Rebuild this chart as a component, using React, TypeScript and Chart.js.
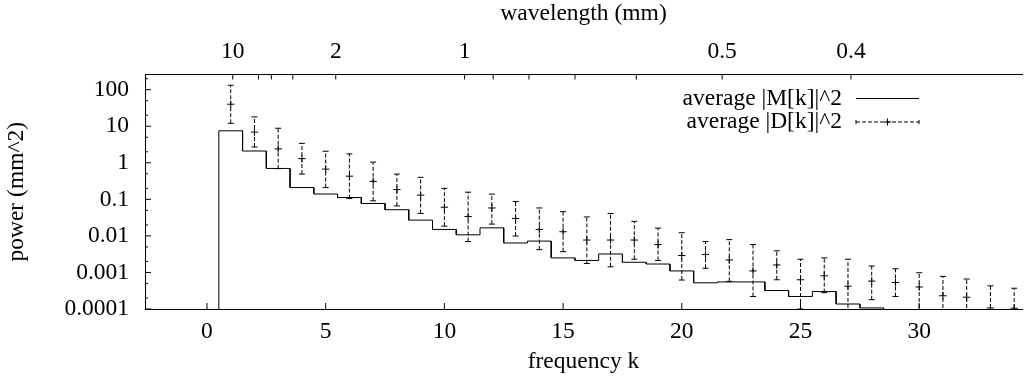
import React, { useEffect, useRef } from 'react';
import { Chart, registerables } from 'chart.js';

Chart.register(...registerables);

// ---------- data ----------
const kValues = [1, 2, 3, 4, 5, 6, 7, 8, 9, 10, 11, 12, 13, 14, 15, 16, 17, 18, 19, 20, 21, 22, 23, 24, 25, 26, 27, 28, 29, 30, 31, 32, 33, 34];
const mPower = [7.5, 2.1, 0.7, 0.21, 0.14, 0.112, 0.077, 0.052, 0.027, 0.015, 0.0107, 0.0166, 0.0064, 0.0072, 0.0025, 0.00213, 0.0032, 0.0019, 0.0017, 0.0011, 0.00052, 0.00055, 0.00055, 0.00032, 0.00022, 0.0003, 0.000137, 0.000107, 0.00008, 0.00007, 0.00006, 0.00005, 0.00005, 0.00005];
const dPower = [40, 6.9, 2.4, 1.3, 0.67, 0.43, 0.31, 0.185, 0.13, 0.061, 0.034, 0.058, 0.03, 0.015, 0.013, 0.0077, 0.0077, 0.0077, 0.0058, 0.0029, 0.0031, 0.0022, 0.0011, 0.0016, 0.00063, 0.00081, 0.00042, 0.00058, 0.00053, 0.0004, 0.00023, 0.00021, 0.000107, 0.000105];
const dLow = [12, 2.7, 0.69, 0.49, 0.21, 0.105, 0.091, 0.066, 0.041, 0.0185, 0.007, 0.021, 0.0099, 0.0042, 0.0037, 0.00176, 0.00143, 0.0023, 0.00213, 0.00062, 0.0013, 0.00057, 0.00022, 0.00063, 0.0001, 0.00028, 0.00005, 0.00018, 0.00022, 0.00005, 0.00005, 0.00005, 0.00005, 0.00005];
const dHigh = [132, 18, 8.8, 3.4, 2.07, 1.75, 1.04, 0.49, 0.4, 0.2, 0.157, 0.139, 0.087, 0.058, 0.046, 0.033, 0.041, 0.025, 0.0163, 0.0122, 0.007, 0.0079, 0.0058, 0.0039, 0.0023, 0.0025, 0.0023, 0.0015, 0.00126, 0.00098, 0.00078, 0.00066, 0.00043, 0.00037];

const xTickValues = [0, 5, 10, 15, 20, 25, 30];
const yTickValues = [0.0001, 0.001, 0.01, 0.1, 1, 10, 100];
const yTickLabels = ['0.0001', '0.001', '0.01', '0.1', '1', '10', '100'];
const yMinorTicks = [0.0002, 0.0005, 0.002, 0.005, 0.02, 0.05, 0.2, 0.5, 2, 5, 20, 50, 200];
const wavelengthTicks = [10, 5, 4, 3, 2, 1, 0.9, 0.8, 0.7, 0.6, 0.5, 0.4];
const wavelengthLabels = ['10', '', '', '', '2', '1', '', '', '', '', '0.5', '0.4'];
const SAMPLE_LENGTH_MM = 10.85;

const X_MIN = -2.61;
const X_MAX = 34.33;
const Y_MIN = 0.0001;
const Y_MAX = 260;

// ---------- layout (page pixels) ----------
const FULL_W = 1027;
const FULL_H = 386;
const PLOT_LEFT = 145;
const PLOT_TOP = 74.5;
const PLOT_BOTTOM = 309;
const FONT_SIZE = 23.5;
const FONT_FAMILY = '"Liberation Serif", "Times New Roman", serif';
const LEGEND_TEXT_RIGHT = 842;
const LEGEND_SAMPLE_L = 856;
const LEGEND_SAMPLE_R = 919;
const LEGEND_ROWS = [98.5, 122];

const font = { family: FONT_FAMILY, size: FONT_SIZE };

const stepPoints = (() => {
  const pts: { x: number; y: number }[] = [{ x: kValues[0] - 0.5, y: 1e-7 }];
  kValues.forEach((k, i) => {
    pts.push({ x: k - 0.5, y: mPower[i] });
    pts.push({ x: k + 0.5, y: mPower[i] });
  });
  return pts;
})();

const line = (ctx: CanvasRenderingContext2D, x1: number, y1: number, x2: number, y2: number) => {
  ctx.beginPath();
  ctx.moveTo(x1, y1);
  ctx.lineTo(x2, y2);
  ctx.stroke();
};

const tickPlugin = {
  id: 'inwardTicks',
  afterDraw(chart: any) {
    const { ctx, chartArea: ca, scales } = chart;
    ctx.save();
    ctx.strokeStyle = '#000';
    ctx.lineWidth = 1;
    xTickValues.forEach((v) => {
      const px = scales.x.getPixelForValue(v);
      line(ctx, px, ca.bottom, px, ca.bottom - 6);
    });
    wavelengthTicks.forEach((l) => {
      const px = scales.x2.getPixelForValue(SAMPLE_LENGTH_MM / l);
      line(ctx, px, ca.top, px, ca.top + 5);
    });
    yTickValues.forEach((v) => {
      const py = scales.y.getPixelForValue(v);
      line(ctx, ca.left, py, ca.left + 6, py);
    });
    yMinorTicks.forEach((v) => {
      const py = scales.y.getPixelForValue(v);
      if (py >= ca.top && py <= ca.bottom) line(ctx, ca.left, py, ca.left + 3, py);
    });
    ctx.restore();
  },
};

const errorBarPlugin = {
  id: 'errorBars',
  afterDatasetsDraw(chart: any) {
    const { ctx, chartArea: ca, scales } = chart;
    ctx.save();
    ctx.beginPath();
    ctx.rect(ca.left, ca.top, ca.right - ca.left, ca.bottom - ca.top);
    ctx.clip();
    ctx.strokeStyle = '#000';
    ctx.lineWidth = 1;
    const cw = 3;
    kValues.forEach((k, i) => {
      const px = scales.x.getPixelForValue(k);
      const pLo = scales.y.getPixelForValue(dLow[i]);
      const pHi = scales.y.getPixelForValue(dHigh[i]);
      ctx.setLineDash([4, 2]);
      line(ctx, px, pLo, px, pHi);
      ctx.setLineDash([]);
      line(ctx, px - cw, pHi, px + cw, pHi);
      line(ctx, px - cw, pLo, px + cw, pLo);
    });
    ctx.restore();
  },
};

const legendPlugin = {
  id: 'gnuLegend',
  afterDraw(chart: any) {
    const { ctx } = chart;
    const x1 = LEGEND_SAMPLE_L;
    const x2 = LEGEND_SAMPLE_R;
    ctx.save();
    ctx.font = `${FONT_SIZE}px ${FONT_FAMILY}`;
    ctx.fillStyle = '#000';
    ctx.textAlign = 'right';
    ctx.textBaseline = 'middle';
    ctx.strokeStyle = '#000';
    ctx.lineWidth = 1;
    chart.data.datasets.forEach((ds: any, i: number) => {
      const y = LEGEND_ROWS[i];
      ctx.fillText(ds.label, LEGEND_TEXT_RIGHT, y);
      if (i === 0) {
        line(ctx, x1, y, x2, y);
      } else {
        ctx.setLineDash([4, 2]);
        line(ctx, x1, y, x2, y);
        ctx.setLineDash([]);
        line(ctx, x1, y - 2, x1, y + 2);
        line(ctx, x2, y - 2, x2, y + 2);
        const xm = (x1 + x2) / 2;
        line(ctx, xm - 3.5, y, xm + 3.5, y);
        line(ctx, xm, y - 3.5, xm, y + 3.5);
      }
    });
    ctx.restore();
  },
};

export default function App() {
  const canvasRef = useRef<HTMLCanvasElement | null>(null);

  useEffect(() => {
    const canvas = canvasRef.current;
    if (!canvas) return;
    const chart = new Chart(canvas, {
      type: 'line',
      data: {
        datasets: [
          {
            label: 'average |M[k]|^2',
            data: stepPoints,
            borderColor: '#000',
            borderWidth: 1,
            pointRadius: 0,
            fill: false,
            tension: 0,
          },
          {
            label: 'average |D[k]|^2',
            data: kValues.map((k, i) => ({ x: k, y: dPower[i] })),
            showLine: false,
            pointStyle: 'cross',
            pointRadius: 3.7,
            pointBorderColor: '#000',
            pointBorderWidth: 1,
            borderColor: '#000',
          },
        ],
      },
      options: {
        animation: false,
        responsive: false,
        maintainAspectRatio: false,
        devicePixelRatio: 1,
        layout: { padding: 0 },
        plugins: { legend: { display: false }, tooltip: { enabled: false } },
        events: [],
        scales: {
          x: {
            type: 'linear',
            position: 'bottom',
            min: X_MIN,
            max: X_MAX,
            afterBuildTicks: (s: any) => {
              s.ticks = xTickValues.map((v) => ({ value: v }));
            },
            afterFit: (s: any) => {
              s.height = FULL_H - PLOT_BOTTOM;
            },
            grid: { display: false, drawTicks: false },
            border: { display: true, color: '#000', width: 1 },
            ticks: { autoSkip: false, maxRotation: 0, padding: 9, color: '#000', font, callback: (v: any) => String(v) },
            title: { display: true, text: 'frequency k', color: '#000', font, padding: { top: 0, bottom: 10 } },
          },
          x2: {
            type: 'linear',
            position: 'top',
            min: X_MIN,
            max: X_MAX,
            afterBuildTicks: (s: any) => {
              s.ticks = wavelengthTicks.map((l) => ({ value: SAMPLE_LENGTH_MM / l }));
            },
            afterFit: (s: any) => {
              s.height = PLOT_TOP;
            },
            grid: { display: false, drawTicks: false },
            border: { display: true, color: '#000', width: 1 },
            ticks: { autoSkip: false, maxRotation: 0, padding: 8.4, color: '#000', font, callback: (_v: any, i: number) => wavelengthLabels[i] },
            title: { display: true, text: 'wavelength (mm)', color: '#000', font, padding: { top: 0, bottom: 0 } },
          },
          y: {
            type: 'logarithmic',
            position: 'left',
            min: Y_MIN,
            max: Y_MAX,
            afterBuildTicks: (s: any) => {
              s.ticks = yTickValues.map((v) => ({ value: v }));
            },
            afterFit: (s: any) => {
              s.width = PLOT_LEFT;
            },
            grid: { display: false, drawTicks: false },
            border: { display: true, color: '#000', width: 1 },
            ticks: { autoSkip: false, padding: 16, color: '#000', font, callback: (_v: any, i: number) => yTickLabels[i] },
            title: { display: true, text: 'power (mm^2)', color: '#000', font, padding: { top: 2.4, bottom: 0 } },
          },
        },
      },
      plugins: [errorBarPlugin, tickPlugin, legendPlugin],
    } as any);
    return () => chart.destroy();
  }, []);

  return (
    <div style={{ position: 'absolute', left: 0, top: 0, width: FULL_W, height: FULL_H, background: '#fff' }}>
      <canvas ref={canvasRef} width={FULL_W} height={FULL_H} style={{ display: 'block', width: FULL_W, height: FULL_H }} />
    </div>
  );
}
